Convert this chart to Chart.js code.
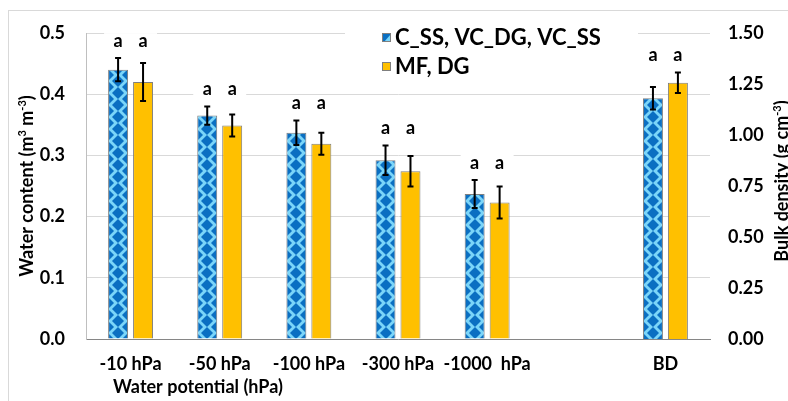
<!DOCTYPE html>
<html>
<head>
<meta charset="utf-8">
<script src="https://cdn.jsdelivr.net/npm/chart.js"></script>
<style>
  html, body { margin: 0; padding: 0; background: #fff; }
  #wrap { width: 788px; height: 401px; }
</style>
</head>
<body>
<div id="wrap"><canvas id="wc-chart" width="788" height="401"></canvas></div>
<script>
// water retention per suction step, bulk density on its own axis (BD)
const categories = ['-10 hPa', '-50 hPa', '-100 hPa', '-300 hPa', '-1000  hPa', '', 'BD'];
const seriesNames = ['C_SS, VC_DG, VC_SS', 'MF, DG'];

const waterBlue      = [0.440, 0.365, 0.337, 0.292, 0.237, null, null];
const waterBlueErr   = [0.019, 0.015, 0.020, 0.024, 0.023, null, null];
const waterOrange    = [0.420, 0.349, 0.319, 0.274, 0.223, null, null];
const waterOrangeErr = [0.031, 0.018, 0.018, 0.025, 0.026, null, null];

const bdBlue      = [null, null, null, null, null, null, 1.180];
const bdBlueErr   = [null, null, null, null, null, null, 0.055];
const bdOrange    = [null, null, null, null, null, null, 1.256];
const bdOrangeErr = [null, null, null, null, null, null, 0.050];

// significance letters
const lettersBlue   = ['a', 'a', 'a', 'a', 'a', null, 'a'];
const lettersOrange = ['a', 'a', 'a', 'a', 'a', null, 'a'];

const FONT = 'Lato, "Open Sans", sans-serif';
const LIGHT = '#7ad5f9';
const DARK = '#0a6fc2';
const ORANGE = '#ffc000';
const EDGE = '#7f7f7f';

Chart.defaults.font.family = FONT;
Chart.defaults.font.weight = 'bold';
Chart.defaults.color = '#000';

// diamond tile for the first group: one diamond in the middle, quarters in the corners
const tile = document.createElement('canvas');
tile.width = 20; tile.height = 12;
(function () {
  const g = tile.getContext('2d');
  g.fillStyle = LIGHT;
  g.fillRect(0, 0, 20, 12);
  g.fillStyle = DARK;
  const diamond = (cx, cy) => {
    g.beginPath();
    g.moveTo(cx, cy - 6); g.lineTo(cx + 6, cy); g.lineTo(cx, cy + 6); g.lineTo(cx - 6, cy);
    g.closePath();
    g.fill();
  };
  diamond(10, 6);
  [[0, 0], [20, 0], [0, 12], [20, 12]].forEach(p => diamond(p[0], p[1]));
})();

function diamondFill(c) {
  const chart = c.chart;
  if (c.dataIndex === undefined || !chart.chartArea || !chart.scales.x) return LIGHT;
  const p = chart.ctx.createPattern(tile, 'repeat');
  const cx = chart.scales.x.getPixelForValue(c.dataIndex);
  p.setTransform(new DOMMatrix([1, 0, 0, 1, Math.round(cx - 22.5), chart.chartArea.bottom]));
  return p;
}

function richText(ctx, parts, x, y, angle, size) {
  ctx.save();
  ctx.translate(x, y);
  ctx.rotate(angle);
  ctx.textAlign = 'left';
  ctx.textBaseline = 'alphabetic';
  ctx.fillStyle = '#000';
  const fontFor = p => 'bold ' + (p.sup ? Math.round(size * 0.62) : size) + 'px ' + FONT;
  let w = 0;
  parts.forEach(p => { ctx.font = fontFor(p); w += ctx.measureText(p.t).width; });
  let cx = -w / 2;
  parts.forEach(p => {
    ctx.font = fontFor(p);
    ctx.fillText(p.t, cx, p.sup ? -size * 0.38 : 0);
    cx += ctx.measureText(p.t).width;
  });
  ctx.restore();
}

const frame = {
  id: 'frame',
  beforeDraw(chart) {
    const ctx = chart.ctx;
    ctx.save();
    ctx.fillStyle = '#fff';
    ctx.fillRect(0, 0, chart.width, chart.height);
    ctx.strokeStyle = '#d9d9d9';
    ctx.lineWidth = 1;
    ctx.strokeRect(8.5, 10.5, chart.width + 20, chart.height + 20);
    ctx.restore();
  }
};

// error bars and letters above each pair
const markers = {
  id: 'markers',
  afterDatasetsDraw(chart) {
    const ctx = chart.ctx;
    const bars = [];
    const groups = {};
    chart.data.datasets.forEach((ds, di) => {
      const meta = chart.getDatasetMeta(di);
      const sc = chart.scales[meta.yAxisID];
      meta.data.forEach((el, i) => {
        const v = ds.data[i];
        if (v === null || v === undefined) return;
        const e = ds.errors[i];
        const hi = sc.getPixelForValue(v + e);
        const lo = sc.getPixelForValue(v - e);
        bars.push({ x: el.x, hi, lo });
        const g = groups[i] || (groups[i] = { top: Infinity, items: [] });
        g.top = Math.min(g.top, hi);
        g.items.push({ x: el.x, letter: ds.letters[i] });
      });
    });

    ctx.save();
    ctx.font = 'bold 18px ' + FONT;
    ctx.textAlign = 'center';
    ctx.textBaseline = 'middle';
    Object.values(groups).forEach(g => {
      const y = g.top - 17;
      const xs = g.items.map(it => it.x);
      ctx.fillStyle = '#fff';
      ctx.fillRect(Math.min(...xs) - 14, y - 8, Math.max(...xs) - Math.min(...xs) + 28, 16);
      ctx.fillStyle = '#000';
      g.items.forEach(it => { if (it.letter) ctx.fillText(it.letter, it.x, y); });
    });

    ctx.strokeStyle = '#000';
    ctx.lineWidth = 2;
    bars.forEach(b => {
      ctx.beginPath();
      ctx.moveTo(b.x, b.hi); ctx.lineTo(b.x, b.lo);
      ctx.moveTo(b.x - 3, b.hi); ctx.lineTo(b.x + 3, b.hi);
      ctx.moveTo(b.x - 3, b.lo); ctx.lineTo(b.x + 3, b.lo);
      ctx.stroke();
    });
    ctx.restore();
  }
};

const legendBox = {
  id: 'legendBox',
  afterDatasetsDraw(chart) {
    const ctx = chart.ctx;
    ctx.save();
    ctx.fillStyle = '#fff';
    ctx.fillRect(345, 18, 293, 64);
    ctx.font = 'bold 22px ' + FONT;
    ctx.textBaseline = 'middle';
    ctx.textAlign = 'left';
    const rows = [37, 66];
    rows.forEach((y, i) => {
      const x = 382;
      if (i === 0) {
        ctx.fillStyle = DARK;
        ctx.fillRect(x, y - 4, 9, 9);
        ctx.fillStyle = LIGHT;
        ctx.beginPath();
        ctx.moveTo(x + 9, y - 3); ctx.lineTo(x + 9, y + 5); ctx.lineTo(x + 2, y + 5);
        ctx.closePath();
        ctx.fill();
      } else {
        ctx.fillStyle = ORANGE;
        ctx.fillRect(x, y - 4, 9, 9);
      }
      ctx.strokeStyle = EDGE;
      ctx.lineWidth = 1;
      ctx.strokeRect(x + 0.5, y - 3.5, 8, 8);
      ctx.fillStyle = '#000';
      ctx.fillText(chart.data.datasets[i].label, x + 13, y + 1);
    });
    ctx.restore();
  }
};

const titles = {
  id: 'titles',
  afterDraw(chart) {
    const ctx = chart.ctx;
    const a = chart.chartArea;
    richText(ctx, [{ t: 'Water content (m' }, { t: '3', sup: true }, { t: ' m' }, { t: '-3', sup: true }, { t: ')' }],
      33, (a.top + a.bottom) / 2, -Math.PI / 2, 18);
    richText(ctx, [{ t: 'Bulk density (g cm' }, { t: '-3', sup: true }, { t: ')' }],
      788, (a.top + a.bottom) / 2 - 5, -Math.PI / 2, 18);
    richText(ctx, [{ t: 'Water potential (hPa)' }], a.left + 112, 393, 0, 18);
  }
};

function barSet(label, data, errors, letters, axis, fill) {
  return {
    label, data, errors, letters,
    yAxisID: axis,
    backgroundColor: fill,
    borderColor: EDGE,
    borderWidth: 1,
    skipNull: true,
    categoryPercentage: 0.56,
    barPercentage: 0.8
  };
}

new Chart(document.getElementById('wc-chart'), {
  type: 'bar',
  data: {
    labels: categories,
    datasets: [
      barSet(seriesNames[0], waterBlue, waterBlueErr, lettersBlue, 'y', diamondFill),
      barSet(seriesNames[1], waterOrange, waterOrangeErr, lettersOrange, 'y', ORANGE),
      barSet(seriesNames[0], bdBlue, bdBlueErr, lettersBlue, 'y1', diamondFill),
      barSet(seriesNames[1], bdOrange, bdOrangeErr, lettersOrange, 'y1', ORANGE)
    ]
  },
  options: {
    responsive: false,
    animation: false,
    devicePixelRatio: 1,
    layout: { padding: { top: 33, left: 0, right: 0, bottom: 0 } },
    plugins: { legend: { display: false }, tooltip: { enabled: false } },
    scales: {
      x: {
        grid: { display: false },
        border: { color: '#868686', width: 1 },
        ticks: { font: { size: 18, weight: 'bold' }, padding: 6, maxRotation: 0, autoSkip: false },
        afterFit(s) { s.height = 62; }
      },
      y: {
        position: 'left',
        min: 0, max: 0.5,
        grid: { color: '#d9d9d9', drawTicks: false },
        border: { color: '#bfbfbf', width: 1 },
        ticks: { stepSize: 0.1, padding: 21, font: { size: 18, weight: 'bold' }, callback: v => v.toFixed(1) },
        afterFit(s) { s.width = 86; }
      },
      y1: {
        position: 'right',
        min: 0, max: 1.5,
        grid: { display: false, drawTicks: false },
        border: { display: false },
        ticks: { stepSize: 0.25, padding: 18, font: { size: 18, weight: 'bold' }, callback: v => v.toFixed(2) },
        afterFit(s) { s.width = 78; }
      }
    }
  },
  plugins: [frame, markers, legendBox, titles]
});
</script>
</body>
</html>
